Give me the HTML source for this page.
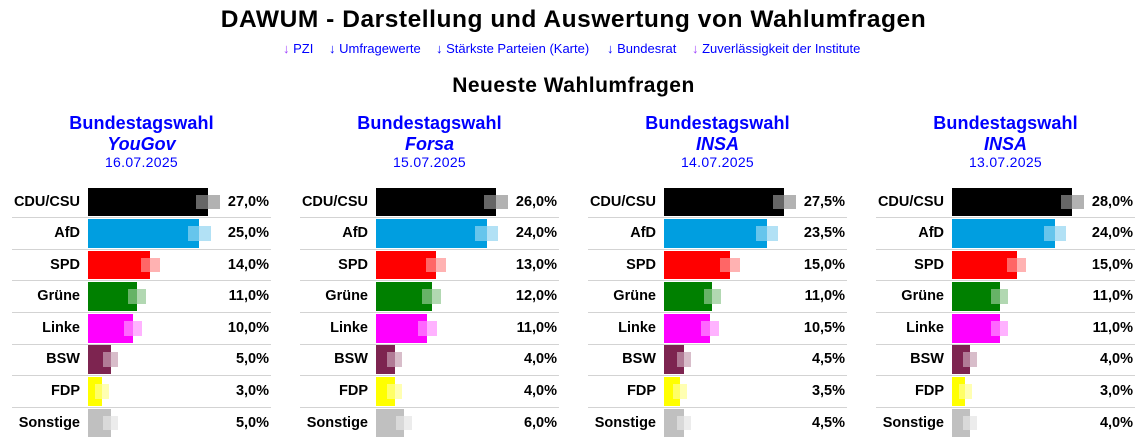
<!DOCTYPE html>
<html><head><meta charset="utf-8"><style>
body{margin:0;width:1147px;height:445px;position:relative;overflow:hidden;background:#fff;font-family:"Liberation Sans",Arial,sans-serif;color:#000}
.t{position:absolute;left:0;width:1147px;text-align:center;white-space:nowrap;font-weight:bold}
.lk{position:absolute;top:40.5px;font-size:13px;line-height:16px;color:#00f;white-space:nowrap}
.lk b{font-weight:normal;color:#00f}
.lk b.v{color:#a040ff}
.col{position:absolute;top:0;width:288px;height:445px}
.h{position:absolute;left:0;width:283px;text-align:center;color:#00f;white-space:nowrap}
.h1{top:113px;font-size:18px;line-height:20px;font-weight:bold;letter-spacing:0.1px}
.h2{top:134px;font-size:18px;line-height:20px;font-weight:bold;font-style:italic}
.h3{top:154.4px;font-size:14px;line-height:16px;letter-spacing:0.3px}
.r{position:absolute;left:0;width:288px;height:28px}
.l,.p{position:absolute;top:0;font-weight:bold;font-size:14.5px;line-height:28px;white-space:nowrap;text-align:right}
.l{left:0;width:80px}
.p{left:190px;width:79px}
.a{position:absolute;left:88px;top:0;height:28px;width:160px}
.a i{position:absolute;display:block}
.bar{left:0;top:0;height:28px}
.u,.o{top:7px;height:14px}
.u{opacity:.5}
.o{background:rgba(255,255,255,.4)}
.h29 .bar{height:29px}
.h29 .u,.h29 .o{height:15px}
.h29 .l,.h29 .p{line-height:29px}
.ln{position:absolute;left:12px;width:259px;height:1px;background:#d3d3d3}
.k0 .bar,.k0 .u{background:#000}
.k1 .bar,.k1 .u{background:#009ee0}
.k2 .bar,.k2 .u{background:#ff0000}
.k3 .bar,.k3 .u{background:#008000}
.k4 .bar,.k4 .u{background:#ff00ff}
.k5 .bar,.k5 .u{background:#7d2450}
.k6 .bar,.k6 .u{background:#ffff00}
.k7 .bar,.k7 .u{background:#c0c0c0}
</style></head><body>

<div class="t" style="top:5px;font-size:24.5px;line-height:30px;letter-spacing:0.55px">DAWUM - Darstellung und Auswertung von Wahlumfragen</div>

<span class="lk" style="left:283px"><b class="v">↓</b> PZI</span>
<span class="lk" style="left:329px"><b>↓</b> Umfragewerte</span>
<span class="lk" style="left:436px"><b>↓</b> Stärkste Parteien (Karte)</span>
<span class="lk" style="left:607px"><b>↓</b> Bundesrat</span>
<span class="lk" style="left:692px"><b class="v">↓</b> Zuverlässigkeit der Institute</span>

<div class="t" style="top:73.7px;font-size:21px;line-height:24px;letter-spacing:0.5px">Neueste Wahlumfragen</div>

<!-- Column 1 -->
<div class="col" style="left:0">
<div class="h h1">Bundestagswahl</div>
<div class="h h2">YouGov</div>
<div class="h h3">16.07.2025</div>
<div class="r" style="top:188px"><span class="l">CDU/CSU</span><div class="a k0"><i class="u" style="left:108px;width:24px"></i><i class="bar" style="width:120px"></i><i class="o" style="left:108px;width:24px"></i></div><span class="p">27,0%</span></div>
<div class="r h29" style="top:219px"><span class="l">AfD</span><div class="a k1"><i class="u" style="left:100px;width:23px"></i><i class="bar" style="width:111px"></i><i class="o" style="left:100px;width:23px"></i></div><span class="p">25,0%</span></div>
<div class="r" style="top:251px"><span class="l">SPD</span><div class="a k2"><i class="u" style="left:53px;width:19px"></i><i class="bar" style="width:62px"></i><i class="o" style="left:53px;width:19px"></i></div><span class="p">14,0%</span></div>
<div class="r h29" style="top:282px"><span class="l">Grüne</span><div class="a k3"><i class="u" style="left:40px;width:18px"></i><i class="bar" style="width:49px"></i><i class="o" style="left:40px;width:18px"></i></div><span class="p">11,0%</span></div>
<div class="r h29" style="top:314px"><span class="l">Linke</span><div class="a k4"><i class="u" style="left:36px;width:18px"></i><i class="bar" style="width:45px"></i><i class="o" style="left:36px;width:18px"></i></div><span class="p">10,0%</span></div>
<div class="r h29" style="top:345px"><span class="l">BSW</span><div class="a k5"><i class="u" style="left:15px;width:15px"></i><i class="bar" style="width:23px"></i><i class="o" style="left:15px;width:15px"></i></div><span class="p">5,0%</span></div>
<div class="r h29" style="top:377px"><span class="l">FDP</span><div class="a k6"><i class="u" style="left:7px;width:14px"></i><i class="bar" style="width:14px"></i><i class="o" style="left:7px;width:14px"></i></div><span class="p">3,0%</span></div>
<div class="r" style="top:409px"><span class="l">Sonstige</span><div class="a k7"><i class="u" style="left:15px;width:15px"></i><i class="bar" style="width:23px"></i><i class="o" style="left:15px;width:15px"></i></div><span class="p">5,0%</span></div>
<i class="ln" style="top:217px"></i><i class="ln" style="top:249px"></i><i class="ln" style="top:280px"></i><i class="ln" style="top:312px"></i><i class="ln" style="top:344px"></i><i class="ln" style="top:375px"></i><i class="ln" style="top:407px"></i>
</div>

<!-- Column 2 -->
<div class="col" style="left:288px">
<div class="h h1">Bundestagswahl</div>
<div class="h h2">Forsa</div>
<div class="h h3">15.07.2025</div>
<div class="r" style="top:188px"><span class="l">CDU/CSU</span><div class="a k0"><i class="u" style="left:108px;width:24px"></i><i class="bar" style="width:120px"></i><i class="o" style="left:108px;width:24px"></i></div><span class="p">26,0%</span></div>
<div class="r h29" style="top:219px"><span class="l">AfD</span><div class="a k1"><i class="u" style="left:99px;width:23px"></i><i class="bar" style="width:111px"></i><i class="o" style="left:99px;width:23px"></i></div><span class="p">24,0%</span></div>
<div class="r" style="top:251px"><span class="l">SPD</span><div class="a k2"><i class="u" style="left:50px;width:20px"></i><i class="bar" style="width:60px"></i><i class="o" style="left:50px;width:20px"></i></div><span class="p">13,0%</span></div>
<div class="r h29" style="top:282px"><span class="l">Grüne</span><div class="a k3"><i class="u" style="left:46px;width:19px"></i><i class="bar" style="width:56px"></i><i class="o" style="left:46px;width:19px"></i></div><span class="p">12,0%</span></div>
<div class="r h29" style="top:314px"><span class="l">Linke</span><div class="a k4"><i class="u" style="left:42px;width:19px"></i><i class="bar" style="width:51px"></i><i class="o" style="left:42px;width:19px"></i></div><span class="p">11,0%</span></div>
<div class="r h29" style="top:345px"><span class="l">BSW</span><div class="a k5"><i class="u" style="left:11px;width:15px"></i><i class="bar" style="width:19px"></i><i class="o" style="left:11px;width:15px"></i></div><span class="p">4,0%</span></div>
<div class="r h29" style="top:377px"><span class="l">FDP</span><div class="a k6"><i class="u" style="left:11px;width:15px"></i><i class="bar" style="width:19px"></i><i class="o" style="left:11px;width:15px"></i></div><span class="p">4,0%</span></div>
<div class="r" style="top:409px"><span class="l">Sonstige</span><div class="a k7"><i class="u" style="left:20px;width:16px"></i><i class="bar" style="width:28px"></i><i class="o" style="left:20px;width:16px"></i></div><span class="p">6,0%</span></div>
<i class="ln" style="top:217px"></i><i class="ln" style="top:249px"></i><i class="ln" style="top:280px"></i><i class="ln" style="top:312px"></i><i class="ln" style="top:344px"></i><i class="ln" style="top:375px"></i><i class="ln" style="top:407px"></i>
</div>

<!-- Column 3 -->
<div class="col" style="left:576px">
<div class="h h1">Bundestagswahl</div>
<div class="h h2">INSA</div>
<div class="h h3">14.07.2025</div>
<div class="r" style="top:188px"><span class="l">CDU/CSU</span><div class="a k0"><i class="u" style="left:109px;width:23px"></i><i class="bar" style="width:120px"></i><i class="o" style="left:109px;width:23px"></i></div><span class="p">27,5%</span></div>
<div class="r h29" style="top:219px"><span class="l">AfD</span><div class="a k1"><i class="u" style="left:92px;width:22px"></i><i class="bar" style="width:103px"></i><i class="o" style="left:92px;width:22px"></i></div><span class="p">23,5%</span></div>
<div class="r" style="top:251px"><span class="l">SPD</span><div class="a k2"><i class="u" style="left:56px;width:20px"></i><i class="bar" style="width:66px"></i><i class="o" style="left:56px;width:20px"></i></div><span class="p">15,0%</span></div>
<div class="r h29" style="top:282px"><span class="l">Grüne</span><div class="a k3"><i class="u" style="left:40px;width:17px"></i><i class="bar" style="width:48px"></i><i class="o" style="left:40px;width:17px"></i></div><span class="p">11,0%</span></div>
<div class="r h29" style="top:314px"><span class="l">Linke</span><div class="a k4"><i class="u" style="left:37px;width:18px"></i><i class="bar" style="width:46px"></i><i class="o" style="left:37px;width:18px"></i></div><span class="p">10,5%</span></div>
<div class="r h29" style="top:345px"><span class="l">BSW</span><div class="a k5"><i class="u" style="left:13px;width:14px"></i><i class="bar" style="width:20px"></i><i class="o" style="left:13px;width:14px"></i></div><span class="p">4,5%</span></div>
<div class="r h29" style="top:377px"><span class="l">FDP</span><div class="a k6"><i class="u" style="left:9px;width:14px"></i><i class="bar" style="width:16px"></i><i class="o" style="left:9px;width:14px"></i></div><span class="p">3,5%</span></div>
<div class="r" style="top:409px"><span class="l">Sonstige</span><div class="a k7"><i class="u" style="left:13px;width:14px"></i><i class="bar" style="width:20px"></i><i class="o" style="left:13px;width:14px"></i></div><span class="p">4,5%</span></div>
<i class="ln" style="top:217px"></i><i class="ln" style="top:249px"></i><i class="ln" style="top:280px"></i><i class="ln" style="top:312px"></i><i class="ln" style="top:344px"></i><i class="ln" style="top:375px"></i><i class="ln" style="top:407px"></i>
</div>

<!-- Column 4 -->
<div class="col" style="left:864px">
<div class="h h1">Bundestagswahl</div>
<div class="h h2">INSA</div>
<div class="h h3">13.07.2025</div>
<div class="r" style="top:188px"><span class="l">CDU/CSU</span><div class="a k0"><i class="u" style="left:109px;width:23px"></i><i class="bar" style="width:120px"></i><i class="o" style="left:109px;width:23px"></i></div><span class="p">28,0%</span></div>
<div class="r h29" style="top:219px"><span class="l">AfD</span><div class="a k1"><i class="u" style="left:92px;width:22px"></i><i class="bar" style="width:103px"></i><i class="o" style="left:92px;width:22px"></i></div><span class="p">24,0%</span></div>
<div class="r" style="top:251px"><span class="l">SPD</span><div class="a k2"><i class="u" style="left:55px;width:19px"></i><i class="bar" style="width:65px"></i><i class="o" style="left:55px;width:19px"></i></div><span class="p">15,0%</span></div>
<div class="r h29" style="top:282px"><span class="l">Grüne</span><div class="a k3"><i class="u" style="left:39px;width:17px"></i><i class="bar" style="width:48px"></i><i class="o" style="left:39px;width:17px"></i></div><span class="p">11,0%</span></div>
<div class="r h29" style="top:314px"><span class="l">Linke</span><div class="a k4"><i class="u" style="left:39px;width:17px"></i><i class="bar" style="width:48px"></i><i class="o" style="left:39px;width:17px"></i></div><span class="p">11,0%</span></div>
<div class="r h29" style="top:345px"><span class="l">BSW</span><div class="a k5"><i class="u" style="left:11px;width:14px"></i><i class="bar" style="width:18px"></i><i class="o" style="left:11px;width:14px"></i></div><span class="p">4,0%</span></div>
<div class="r h29" style="top:377px"><span class="l">FDP</span><div class="a k6"><i class="u" style="left:7px;width:13px"></i><i class="bar" style="width:13px"></i><i class="o" style="left:7px;width:13px"></i></div><span class="p">3,0%</span></div>
<div class="r" style="top:409px"><span class="l">Sonstige</span><div class="a k7"><i class="u" style="left:11px;width:14px"></i><i class="bar" style="width:18px"></i><i class="o" style="left:11px;width:14px"></i></div><span class="p">4,0%</span></div>
<i class="ln" style="top:217px"></i><i class="ln" style="top:249px"></i><i class="ln" style="top:280px"></i><i class="ln" style="top:312px"></i><i class="ln" style="top:344px"></i><i class="ln" style="top:375px"></i><i class="ln" style="top:407px"></i>
</div>

</body></html>
